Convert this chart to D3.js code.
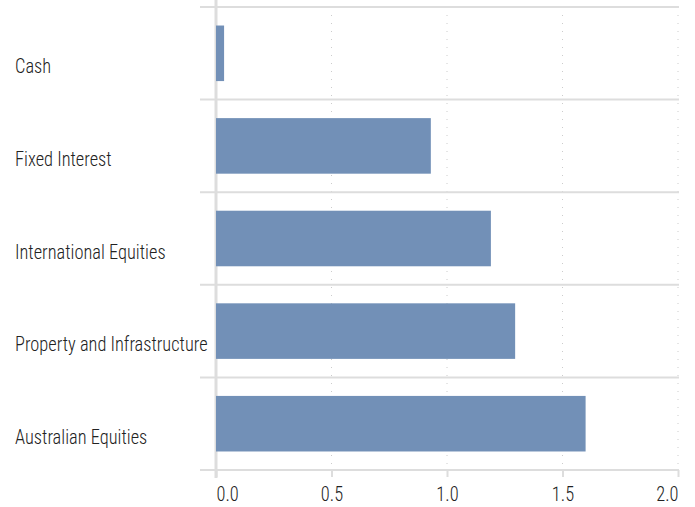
<!DOCTYPE html>
<html>
<head>
<meta charset="utf-8">
<script src="https://cdn.jsdelivr.net/npm/d3@7"></script>
<style>
  body { margin: 0; background: #fff; }
  svg text { font-family: "Roboto Condensed", Roboto, sans-serif; font-weight: 300; fill: #222; }
</style>
</head>
<body>
<svg id="chart"></svg>
<script>
// asset classes, top to bottom
const categories = ['Cash', 'Fixed Interest', 'International Equities', 'Property and Infrastructure', 'Australian Equities'];
const values = [0.035, 0.93, 1.19, 1.295, 1.60];
const xTicks = [0, 0.5, 1.0, 1.5, 2.0];

const width = 695, height = 507;
const margin = { top: 7, right: 17, bottom: 37, left: 216 };
const squeeze = 0.92; // fake a condensed face

const svg = d3.select('#chart')
  .attr('width', width)
  .attr('height', height);

const x = d3.scaleLinear()
  .domain([0, 2])
  .range([margin.left, width - margin.right]);

const y = d3.scaleBand()
  .domain(categories)
  .range([margin.top, height - margin.bottom])
  .paddingInner(0.4)
  .paddingOuter(0.2);

// dotted vertical grid
svg.append('g')
  .selectAll('line')
  .data(xTicks.slice(1))
  .enter()
  .append('line')
  .attr('x1', d => x(d))
  .attr('x2', d => x(d))
  .attr('y1', margin.top)
  .attr('y2', height - margin.bottom)
  .attr('stroke', '#ccc')
  .attr('stroke-width', 1)
  .attr('stroke-dasharray', '1,7');

// horizontal separators between categories
const step = y.step();
const seps = d3.range(categories.length + 1).map(i => margin.top + i * step);
svg.append('g')
  .selectAll('line')
  .data(seps)
  .enter()
  .append('line')
  .attr('x1', 200)
  .attr('x2', x(2) + 1)
  .attr('y1', d => d)
  .attr('y2', d => d)
  .attr('stroke', '#ddd')
  .attr('stroke-width', 2);

// zero line
svg.append('line')
  .attr('x1', x(0))
  .attr('x2', x(0))
  .attr('y1', 0)
  .attr('y2', height - margin.bottom + 8)
  .attr('stroke', '#ddd')
  .attr('stroke-width', 3);

// bars
svg.append('g')
  .selectAll('rect')
  .data(values)
  .enter()
  .append('rect')
  .attr('x', x(0))
  .attr('y', (d, i) => y(categories[i]))
  .attr('width', d => x(d) - x(0))
  .attr('height', y.bandwidth())
  .attr('fill', '#7290b7');

// category labels
svg.append('g')
  .selectAll('text')
  .data(categories)
  .enter()
  .append('text')
  .attr('transform', d => `translate(15, ${y(d) + y.bandwidth() / 2 + 20}) scale(${squeeze}, 1)`)
  .style('font-size', '20px')
  .text(d => d);

// x axis
const xAxis = d3.axisBottom(x)
  .tickValues(xTicks)
  .tickFormat(d3.format('.1f'))
  .tickSize(7);

const ax = svg.append('g')
  .attr('transform', `translate(0, ${height - margin.bottom})`)
  .call(xAxis);

ax.select('.domain').remove();
ax.selectAll('.tick line').attr('stroke', '#ddd').attr('stroke-width', 2);
ax.selectAll('.tick text')
  .attr('y', null)
  .attr('dy', null)
  .attr('text-anchor', (d, i) => i === 0 ? 'start' : (i === xTicks.length - 1 ? 'end' : 'middle'))
  .attr('transform', `translate(0, 31) scale(${squeeze}, 1)`)
  .attr('x', 0)
  .style('font-size', '20px')
  .attr('fill', '#222');
</script>
</body>
</html>
